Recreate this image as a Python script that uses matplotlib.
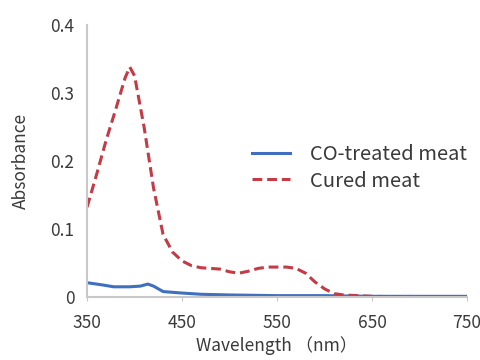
import matplotlib.pyplot as plt

plt.rcParams["font.family"] = ["Noto Sans CJK JP", "DejaVu Sans"]

# wavelength (nm) / absorbance
cured_wl = [350, 360, 370, 380, 390, 395, 400, 410, 420, 430, 440, 450, 460, 470,
            480, 490, 500, 510, 520, 530, 540, 550, 560, 570, 580, 590, 600, 610,
            620, 650, 690]
cured_abs = [0.132, 0.18, 0.23, 0.275, 0.322, 0.338, 0.325, 0.25, 0.16, 0.092,
             0.066, 0.053, 0.046, 0.043, 0.042, 0.041, 0.037, 0.035, 0.038, 0.042,
             0.044, 0.044, 0.044, 0.042, 0.035, 0.022, 0.012, 0.005, 0.003, 0.001, 0.0]

co_wl = [350, 365, 378, 395, 406, 414, 420, 430, 448, 470, 500, 550, 600, 650, 700, 750]
co_abs = [0.021, 0.018, 0.015, 0.015, 0.016, 0.019, 0.016, 0.008, 0.006, 0.004,
          0.003, 0.002, 0.002, 0.001, 0.001, 0.001]

x_ticks = [350, 450, 550, 650, 750]
y_ticks = [0, 0.1, 0.2, 0.3, 0.4]
y_labels = ["0", "0.1", "0.2", "0.3", "0.4"]

TXT = "#3a3a3a"

fig = plt.figure(figsize=(4.81, 3.6), dpi=100)
ax = fig.add_axes([0.181, 0.175, 0.79, 0.756])

ax.plot(co_wl, co_abs, color="#3f6fbf", lw=2.2, label="CO-treated meat")
ax.plot(cured_wl, cured_abs, color="#c23b45", lw=2.2, ls=(0, (3.2, 1.6)), label="Cured meat")

ax.set_xlim(350, 750)
ax.set_ylim(0, 0.4)
ax.set_xticks(x_ticks)
ax.set_yticks(y_ticks)
ax.set_yticklabels(y_labels)

for s in ["top", "right"]:
    ax.spines[s].set_visible(False)
for s in ["left", "bottom"]:
    ax.spines[s].set_color("#c8c8c8")
    ax.spines[s].set_linewidth(1.5)
ax.tick_params(axis="x", length=3, color="#c8c8c8", labelsize=12.5, labelcolor=TXT, pad=9)
ax.tick_params(axis="y", length=0, labelsize=12.5, labelcolor=TXT, pad=9)

ax.set_xlabel("Wavelength （nm）", fontsize=12.5, color=TXT, labelpad=3)
ax.set_ylabel("Absorbance", fontsize=12.5, color=TXT, labelpad=15)

ax.legend(loc="center left", bbox_to_anchor=(252 / 481, 1 - 168 / 360),
          bbox_transform=fig.transFigure, frameon=False, fontsize=14.5,
          borderpad=0, borderaxespad=0, handlelength=1.9, labelspacing=0.25,
          handletextpad=1.0, labelcolor=TXT)

fig.savefig("out.png", dpi=100)
